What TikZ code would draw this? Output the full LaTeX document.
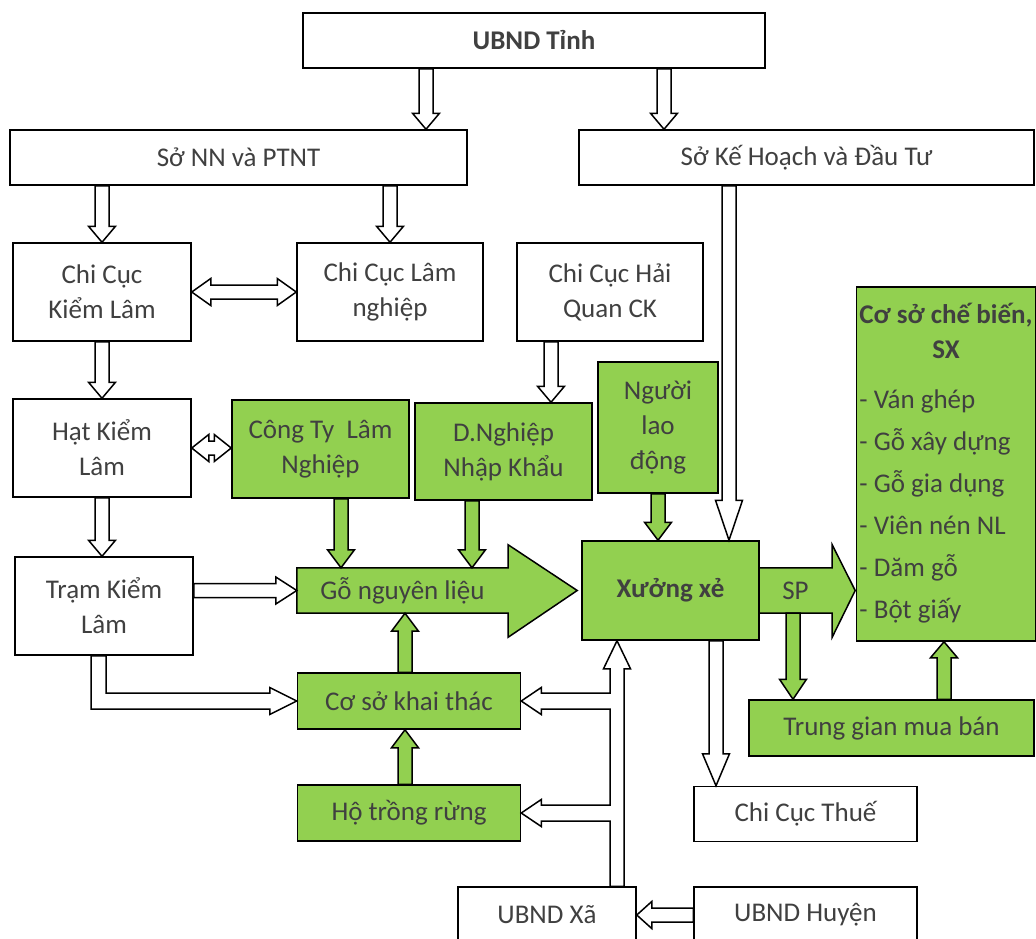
\documentclass[tikz,border=0pt]{standalone}
\usepackage{fontspec}
\setmainfont{Carlito}
\usetikzlibrary{calc,backgrounds}

\definecolor{leaf}{HTML}{92D050}
\definecolor{txt}{HTML}{404040}

\tikzset{
  box/.style={draw, line width=1.5pt, fill=white, text=txt, align=center, inner sep=3pt},
  gbox/.style={box, fill=leaf},
  arrline/.style={line width=1.5pt, line join=miter},
}

% block arrow: [fill]{head length}{from}{to}
\newcommand{\blockarr}[4][white]{%
  \filldraw[arrline, fill=#1] let \p1=#3, \p2=#4, \p3=($#4!#2!#3$) in
    ($(\p1)!7pt!90:(\p2)$) -- ($(\p3)!7pt!90:(\p2)$) -- ($(\p3)!13.5pt!90:(\p2)$) -- (\p2)
    -- ($(\p3)!13.5pt!-90:(\p2)$) -- ($(\p3)!7pt!-90:(\p2)$) -- ($(\p1)!7pt!-90:(\p2)$) -- cycle;}
% block arrow with two heads
\newcommand{\dblarr}[3]{%
  \filldraw[arrline, fill=white] let \p1=#2, \p2=#3, \p3=($#2!#1!#3$), \p4=($#3!#1!#2$) in
    (\p1) -- ($(\p3)!13.5pt!90:(\p2)$) -- ($(\p3)!7pt!90:(\p2)$) -- ($(\p4)!7pt!90:(\p2)$)
    -- ($(\p4)!13.5pt!90:(\p2)$) -- (\p2) -- ($(\p4)!13.5pt!-90:(\p2)$) -- ($(\p4)!7pt!-90:(\p2)$)
    -- ($(\p3)!7pt!-90:(\p2)$) -- ($(\p3)!13.5pt!-90:(\p2)$) -- cycle;}

\begin{document}
\fontsize{27}{35}\selectfont
\begin{tikzpicture}[x=1pt,y=-1pt]
\useasboundingbox (0,0) rectangle (1036,938);

% boxes
\node[box, minimum width=462pt, minimum height=55pt, font=\bfseries] (tinh) at (534,40.5) {UBND Tỉnh};
\node[box, minimum width=457pt, minimum height=55pt] (sonn) at (238.5,157.5) {Sở NN và PTNT};
\node[box, minimum width=455pt, minimum height=55pt] (sokh) at (806.5,157.5) {Sở Kế Hoạch và Đầu Tư};

\node[box, minimum width=178pt, minimum height=98pt] (cckl) at (102,292) {Chi Cục\\Kiểm Lâm};
\node[box, minimum width=186pt, minimum height=98pt] (ccln) at (390,292) {Chi Cục Lâm\\nghiệp};
\node[box, minimum width=186pt, minimum height=98pt] (cchq) at (610,292) {Chi Cục Hải\\Quan CK};

\node[box, minimum width=178pt, minimum height=98pt] (hat) at (102,448) {Hạt Kiểm\\Lâm};
\node[gbox, minimum width=177pt, minimum height=98pt] (cty) at (320.5,449) {Công Ty\ \ Lâm\\Nghiệp};
\node[gbox, minimum width=177pt, minimum height=97pt] (dn) at (503.5,451.5) {D.Nghiệp\\Nhập Khẩu};
\node[gbox, minimum width=120pt, minimum height=131pt] (nld) at (658,427.5) {Người\\lao\\động};

\node[box, minimum width=178pt, minimum height=98pt] (tram) at (104,606) {Trạm Kiểm\\Lâm};
\node[minimum width=211pt, minimum height=45pt, text=txt] (go) at (402.5,590.5) {Gỗ nguyên liệu};
\node[gbox, minimum width=177pt, minimum height=99pt, font=\bfseries] (xuong) at (670.5,590.5) {Xưởng xẻ};
\node[minimum width=73pt, minimum height=45pt, text=txt] (sp) at (795.5,590.5) {SP};
\node[gbox, minimum width=176pt, minimum height=354pt] (cb) at (946,464)
  {\begin{tabular}{@{}l@{}}
   \multicolumn{1}{@{}c@{}}{\textbf{Cơ sở chế biến,}}\\
   \multicolumn{1}{@{}c@{}}{\textbf{SX}}\\[15pt]
   - Ván ghép\\[7pt] - Gỗ xây dựng\\[7pt] - Gỗ gia dụng\\[7pt] - Viên nén NL\\[7pt] - Dăm gỗ\\[7pt] - Bột giấy
   \end{tabular}};

\node[gbox, minimum width=223pt, minimum height=56pt] (khai) at (409,701) {Cơ sở khai thác};
\node[gbox, minimum width=223pt, minimum height=56pt] (ho) at (409,813) {Hộ trồng rừng};
\node[gbox, minimum width=285pt, minimum height=56pt] (tg) at (891.5,728) {Trung gian mua bán};
\node[box, minimum width=223pt, minimum height=55pt] (thue) at (805.5,814) {Chi Cục Thuế};
\node[box, minimum width=178pt, minimum height=56pt] (xa) at (547,915) {UBND Xã};
\node[box, minimum width=223pt, minimum height=56pt] (huyen) at (805.5,915) {UBND Huyện};

% big arrows
\begin{scope}[on background layer]
\filldraw[arrline, fill=leaf] (go.south west) -- (go.north west) -- (go.north east) -- ($(go.north east)+(0,-23)$)
  -- ($(go.east)+(69,0)$) -- ($(go.south east)+(0,24)$) -- (go.south east) -- cycle;
\filldraw[arrline, fill=leaf] (sp.south west) -- (sp.north west) -- (sp.north east) -- ($(sp.north east)+(0,-23)$)
  -- ($(sp.east)+(23,0)$) -- ($(sp.south east)+(0,24)$) -- (sp.south east) -- cycle;
\end{scope}

% hollow arrows
\blockarr{16pt}{(426,0 |- tinh.south)}{(426,0 |- sonn.north)}
\blockarr{16pt}{(664,0 |- tinh.south)}{(664,0 |- sokh.north)}
\blockarr{16pt}{(cckl.north |- sonn.south)}{(cckl.north)}
\blockarr{16pt}{(ccln.north |- sonn.south)}{(ccln.north)}
\dblarr{19pt}{(cckl.east)}{(ccln.west)}
\blockarr{16pt}{(cckl.south)}{(hat.north)}
\dblarr{17pt}{(hat.east)}{(hat.east -| cty.west)}
\blockarr{16pt}{(hat.south)}{(hat.south |- tram.north)}
\blockarr{16pt}{(551,0 |- cchq.south)}{(551,0 |- dn.north)}
\blockarr{40pt}{(729,0 |- sokh.south)}{(729,0 |- xuong.north)}
\blockarr{21pt}{(tram.east |- go.west)}{(go.west)}
\blockarr{32pt}{(716,0 |- xuong.south)}{(716,0 |- thue.north)}
\blockarr{15pt}{(huyen.west)}{(xa.east)}

\filldraw[arrline, fill=white] (91,0 |- tram.south) -- ($(91,0 |- khai.west)+(0,8)$) -- ($(khai.west)+(-27,8)$)
  -- ($(khai.west)+(-27,13.5)$) -- (khai.west) -- ($(khai.west)+(-27,-13.5)$) -- ($(khai.west)+(-27,-8)$)
  -- ($(106,0 |- khai.west)+(0,-8)$) -- (106,0 |- tram.south) -- cycle;

\filldraw[arrline, fill=white] (610,0 |- xa.north) -- ($(610,0 |- ho.east)+(0,8)$) -- ($(ho.east)+(20,8)$)
  -- ($(ho.east)+(20,13.5)$) -- (ho.east) -- ($(ho.east)+(20,-13.5)$) -- ($(ho.east)+(20,-8)$)
  -- ($(610,0 |- ho.east)+(0,-8)$) -- ($(610,0 |- khai.east)+(0,8)$) -- ($(khai.east)+(20,8)$)
  -- ($(khai.east)+(20,13.5)$) -- (khai.east) -- ($(khai.east)+(20,-13.5)$) -- ($(khai.east)+(20,-8)$)
  -- ($(610,0 |- khai.east)+(0,-8)$) -- ($(610,0 |- xuong.south)+(0,28)$) -- ($(603.5,0 |- xuong.south)+(0,28)$)
  -- (617,0 |- xuong.south) -- ($(630.5,0 |- xuong.south)+(0,28)$) -- ($(624,0 |- xuong.south)+(0,28)$)
  -- (624,0 |- xa.north) -- cycle;

% green arrows
\blockarr[leaf]{18pt}{(341,0 |- cty.south)}{(341,0 |- go.north)}
\blockarr[leaf]{18pt}{(472,0 |- dn.south)}{(472,0 |- go.north)}
\blockarr[leaf]{18pt}{(nld.south)}{(nld.south |- xuong.north)}
\blockarr[leaf]{18pt}{(405,0 |- khai.north)}{(405,0 |- go.south)}
\blockarr[leaf]{18pt}{(405,0 |- ho.north)}{(405,0 |- khai.south)}
\blockarr[leaf]{20pt}{(793,0 |- sp.south)}{(793,0 |- tg.north)}
\blockarr[leaf]{16pt}{(944,0 |- tg.north)}{(944,0 |- cb.south)}
\end{tikzpicture}
\end{document}
